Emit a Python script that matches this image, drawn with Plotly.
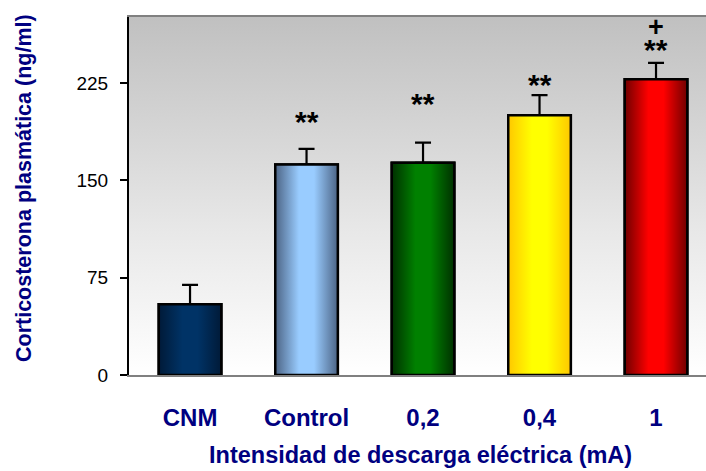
import base64
import plotly.graph_objects as go

categories = ["CNM", "Control", "0,2", "0,4", "1"]
values = [54.5, 162.3, 163.6, 200.3, 228.1]
errors = [15.0, 12.0, 15.5, 15.5, 12.6]
star_labels = ["", "**", "**", "**", "**"]
star_y = [0, 195.8, 209.7, 223.6, 251.3]
plus_labels = ["", "", "", "", "+"]
plus_y = [0, 0, 0, 0, 268.5]
y_ticks = [0, 75, 150, 225]

edge_colors = ["#001a38", "#4c6485", "#003000", "#ffc800", "#700000"]
center_colors = ["#003366", "#99ccff", "#008000", "#ffff00", "#ff0000"]

NAVY = "#000080"
FONT = "Arial, Liberation Sans, sans-serif"
BAR_W = 0.537
xs = list(range(len(categories)))

fig = go.Figure()

# base bars with error bars
fig.add_trace(go.Bar(
    x=xs, y=values, width=BAR_W,
    marker=dict(color=center_colors, line=dict(color="black", width=2.5)),
    error_y=dict(type="data", array=errors, arrayminus=[0] * len(errors),
                 symmetric=False, color="black", thickness=2.2, width=8),
    hoverinfo="skip", showlegend=False,
))

# cylinder-like gradient overlay on each bar
for i, (v, ec, cc) in enumerate(zip(values, edge_colors, center_colors)):
    x0, x1 = i - BAR_W / 2, i + BAR_W / 2
    fig.add_trace(go.Scatter(
        x=[x0, x1, x1, x0, x0], y=[0, 0, v, v, 0],
        mode="lines", fill="toself",
        fillgradient=dict(type="horizontal",
                          colorscale=[[0, ec], [0.38, cc], [0.62, cc], [1, ec]]),
        line=dict(color="black", width=2.5),
        hoverinfo="skip", showlegend=False,
    ))

svg = ('<svg xmlns="http://www.w3.org/2000/svg" width="10" height="100" preserveAspectRatio="none">'
       '<defs><linearGradient id="g" x1="0" y1="0" x2="0" y2="1">'
       '<stop offset="0" stop-color="#c0c0c0"/><stop offset="0.6" stop-color="#e8e8e8"/>'
       '<stop offset="1" stop-color="#ffffff"/></linearGradient></defs>'
       '<rect width="10" height="100" fill="url(#g)"/></svg>')
src = "data:image/svg+xml;base64," + base64.b64encode(svg.encode()).decode()

annotations = []
for labels, ys, size in ((star_labels, star_y, 30), (plus_labels, plus_y, 27)):
    for i, (lab, yy) in enumerate(zip(labels, ys)):
        if not lab:
            continue
        annotations.append(dict(x=i, y=yy, xref="x", yref="y", text="<b>%s</b>" % lab,
                                showarrow=False,
                                font=dict(family=FONT, size=size, color="black"),
                                yanchor="middle", xanchor="center"))

annotations.append(dict(x=(24 - 129) / 577, y=(375 - 188) / 358, xref="paper", yref="paper",
                        text="<b>Corticosterona plasmática (ng/ml)</b>", textangle=-90,
                        showarrow=False, font=dict(family=FONT, size=21.5, color=NAVY),
                        xanchor="center", yanchor="middle"))
annotations.append(dict(x=(420 - 129) / 577, y=-(455 - 375) / 358, xref="paper", yref="paper",
                        text="<b>Intensidad de descarga eléctrica (mA)</b>",
                        showarrow=False, font=dict(family=FONT, size=23.5, color=NAVY),
                        xanchor="center", yanchor="middle"))

fig.update_layout(
    width=706, height=471,
    margin=dict(l=129, r=0, t=17, b=96),
    paper_bgcolor="white", plot_bgcolor="rgba(0,0,0,0)",
    barmode="overlay",
    images=[dict(source=src, xref="paper", yref="paper", x=0, y=1, sizex=1, sizey=1,
                 sizing="stretch", layer="below", xanchor="left", yanchor="top")],
    annotations=annotations,
    xaxis=dict(range=[-0.524, 4.429], tickmode="array", tickvals=xs,
               ticktext=["<b>%s</b>" % c for c in categories],
               tickfont=dict(family=FONT, size=24, color=NAVY),
               ticks="outside", ticklen=20, tickcolor="rgba(0,0,0,0)",
               showline=True, linecolor="#808080", linewidth=2, mirror=True,
               showgrid=False, zeroline=False, fixedrange=True),
    yaxis=dict(range=[0, 276], tickmode="array", tickvals=y_ticks,
               tickfont=dict(family=FONT, size=19, color="black"),
               ticks="outside", ticklen=7, tickwidth=2, tickcolor="black",
               ticklabelstandoff=8,
               showline=True, linecolor="black", linewidth=2,
               showgrid=False, zeroline=False, fixedrange=True),
)

fig.write_html("out.html", config={"displayModeBar": False},
               post_script="document.body.style.margin='0';")
